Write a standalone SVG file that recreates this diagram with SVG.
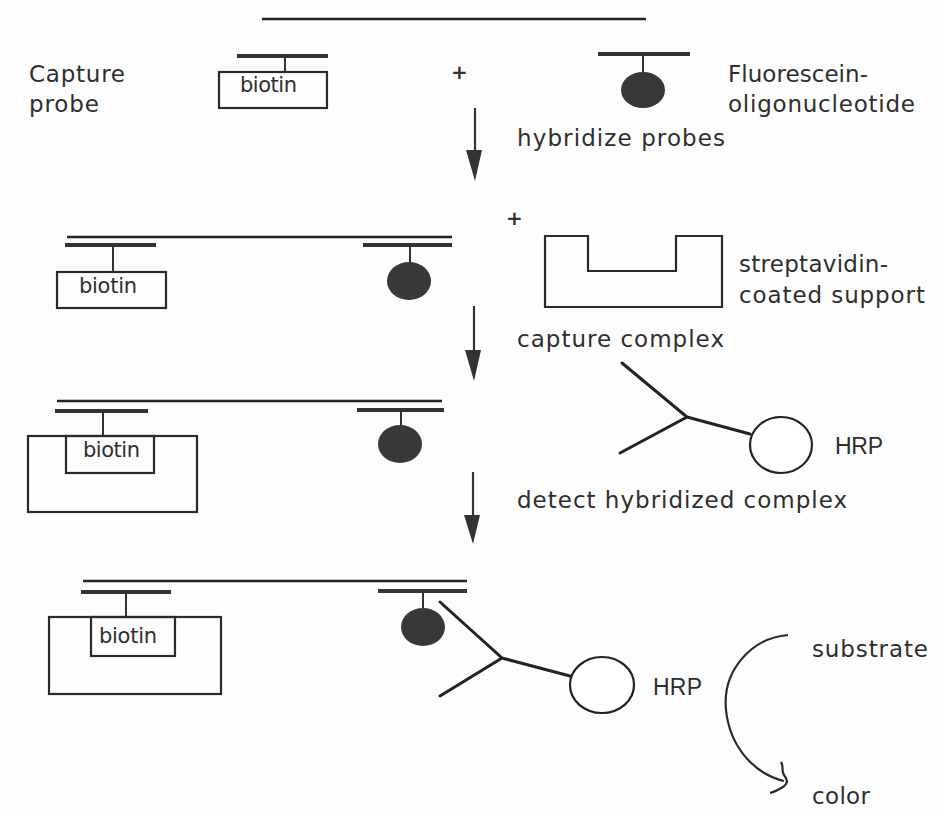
<svg xmlns="http://www.w3.org/2000/svg" width="939" height="813" viewBox="0 0 939 813">
<style>
.bg{fill:#fdfdfd}
.strand{stroke:#222;stroke-width:2.5;fill:none}
.bar{stroke:#333;stroke-width:4;fill:none}
.stem{stroke:#333;stroke-width:2;fill:none}
.curve{stroke:#2a2a2a;stroke-width:2.2;fill:none}
.box{stroke:#2a2a2a;stroke-width:2.2;fill:none}
.dot{fill:#383838}
.ab{stroke:#222;stroke-width:3;fill:none;stroke-linecap:round}
.hrp{stroke:#222;stroke-width:2.2;fill:#fff}
.lbl{font-family:"DejaVu Sans","Liberation Sans",sans-serif;font-size:23px;fill:#2e2e2e}
.bt{font-family:"DejaVu Sans","Liberation Sans",sans-serif;font-size:21px;fill:#2e2e2e}
.hr{font-family:"Liberation Sans","DejaVu Sans",sans-serif;font-size:23px;fill:#2e2e2e}
.plus{font-family:"DejaVu Sans",sans-serif;font-size:20px;font-weight:bold;fill:#333}
.shaft{stroke:#333;stroke-width:2.2}
.head{fill:#333}
</style>
<rect class="bg" x="0" y="0" width="939" height="813"/>

<g id="row1">
  <line class="strand" x1="262" y1="19" x2="646" y2="19"/>
  <g id="capture-probe">
    <line class="bar" x1="237" y1="56" x2="328" y2="56"/>
    <line class="stem" x1="285" y1="56" x2="285" y2="72"/>
    <rect class="box" x="219" y="72" width="108" height="36"/>
    <text class="bt" x="240" y="92" textLength="57">biotin</text>
  </g>
  <text class="lbl" x="29" y="82" textLength="96">Capture</text>
  <text class="lbl" x="29" y="112" textLength="70">probe</text>
  <text class="plus" x="451" y="79">+</text>
  <g id="fluor-probe">
    <line class="bar" x1="598" y1="54" x2="690" y2="54"/>
    <line class="stem" x1="643" y1="54" x2="643" y2="72"/>
    <ellipse class="dot" cx="643" cy="90" rx="22" ry="18"/>
  </g>
  <text class="lbl" x="728" y="82" textLength="140">Fluorescein-</text>
  <text class="lbl" x="728" y="112" textLength="187">oligonucleotide</text>
</g>

<g id="connectors">
  <line class="shaft" x1="475" y1="108" x2="475" y2="152"/>
  <polygon class="head" points="466,150 482,150 475,181"/>
  <line class="shaft" x1="474" y1="306" x2="474" y2="352"/>
  <polygon class="head" points="465,350 481,350 474,381"/>
  <line class="shaft" x1="473" y1="472" x2="473" y2="517"/>
  <polygon class="head" points="464,515 480,515 473,544"/>
  <path class="curve" d="M788,635 C752,638 722,670 726,710 C730,748 755,774 784,781"/>
  <path class="curve" d="M781,762 C784,766 781,771 784,775 C787,779 789,783 783,787 C778,790 774,792 770,793"/>
</g>
<text class="lbl" x="517" y="146" textLength="208">hybridize probes</text>

<g id="row2">
  <line class="strand" x1="67" y1="237" x2="452" y2="237"/>
  <g id="capture-probe-2">
    <line class="bar" x1="65" y1="245" x2="156" y2="245"/>
    <line class="stem" x1="113" y1="245" x2="113" y2="272"/>
    <rect class="box" x="57" y="272" width="109" height="36"/>
    <text class="bt" x="79" y="293" textLength="58">biotin</text>
  </g>
  <g id="fluor-probe-2">
    <line class="bar" x1="363" y1="245" x2="452" y2="245"/>
    <line class="stem" x1="410" y1="245" x2="410" y2="263"/>
    <ellipse class="dot" cx="409" cy="281" rx="22" ry="19"/>
  </g>
  <text class="plus" x="506" y="225">+</text>
  <g id="support">
    <path class="box" d="M545,236 H588 V271 H676 V236 H722 V307 H545 Z"/>
  </g>
  <text class="lbl" x="739" y="272" textLength="149">streptavidin-</text>
  <text class="lbl" x="739" y="303" textLength="186">coated support</text>
</g>
<text class="lbl" x="517" y="347" textLength="207">capture complex</text>

<g id="row3">
  <line class="strand" x1="57" y1="401" x2="442" y2="401"/>
  <g id="captured-complex">
    <line class="bar" x1="55" y1="411" x2="148" y2="411"/>
    <line class="stem" x1="103" y1="411" x2="103" y2="436"/>
    <rect class="box" x="28" y="436" width="169" height="76"/>
    <rect class="box" x="66" y="436" width="88" height="37"/>
    <text class="bt" x="83" y="457" textLength="57">biotin</text>
  </g>
  <g id="fluor-probe-3">
    <line class="bar" x1="357" y1="410" x2="444" y2="410"/>
    <line class="stem" x1="401" y1="410" x2="401" y2="426"/>
    <ellipse class="dot" cx="400" cy="444" rx="22" ry="19"/>
  </g>
  <g id="antibody-hrp">
    <path class="ab" d="M622,363 L687,417 L620,453 M687,417 L750,434"/>
    <ellipse class="hrp" cx="781" cy="445" rx="31" ry="28"/>
    <text class="hr" x="835" y="454" textLength="48">HRP</text>
  </g>
</g>
<text class="lbl" x="517" y="508" textLength="330">detect hybridized complex</text>

<g id="row4">
  <line class="strand" x1="83" y1="581" x2="467" y2="581"/>
  <g id="captured-complex-4">
    <line class="bar" x1="81" y1="592" x2="171" y2="592"/>
    <line class="stem" x1="126" y1="592" x2="126" y2="617"/>
    <rect class="box" x="49" y="617" width="172" height="77"/>
    <rect class="box" x="91" y="617" width="84" height="39"/>
    <text class="bt" x="99" y="643" textLength="58">biotin</text>
  </g>
  <g id="fluor-probe-4">
    <line class="bar" x1="378" y1="591" x2="467" y2="591"/>
    <line class="stem" x1="423" y1="591" x2="423" y2="608"/>
    <ellipse class="dot" cx="423" cy="627" rx="22" ry="19"/>
  </g>
  <g id="antibody-hrp-4">
    <path class="ab" d="M440,602 L502,658 L440,696 M502,658 L570,676"/>
    <ellipse class="hrp" cx="602" cy="685" rx="32" ry="28"/>
    <text class="hr" x="653" y="695" textLength="49">HRP</text>
  </g>
  <text class="lbl" x="812" y="657" textLength="116">substrate</text>
  <text class="lbl" x="812" y="804" textLength="58">color</text>
</g>
</svg>
